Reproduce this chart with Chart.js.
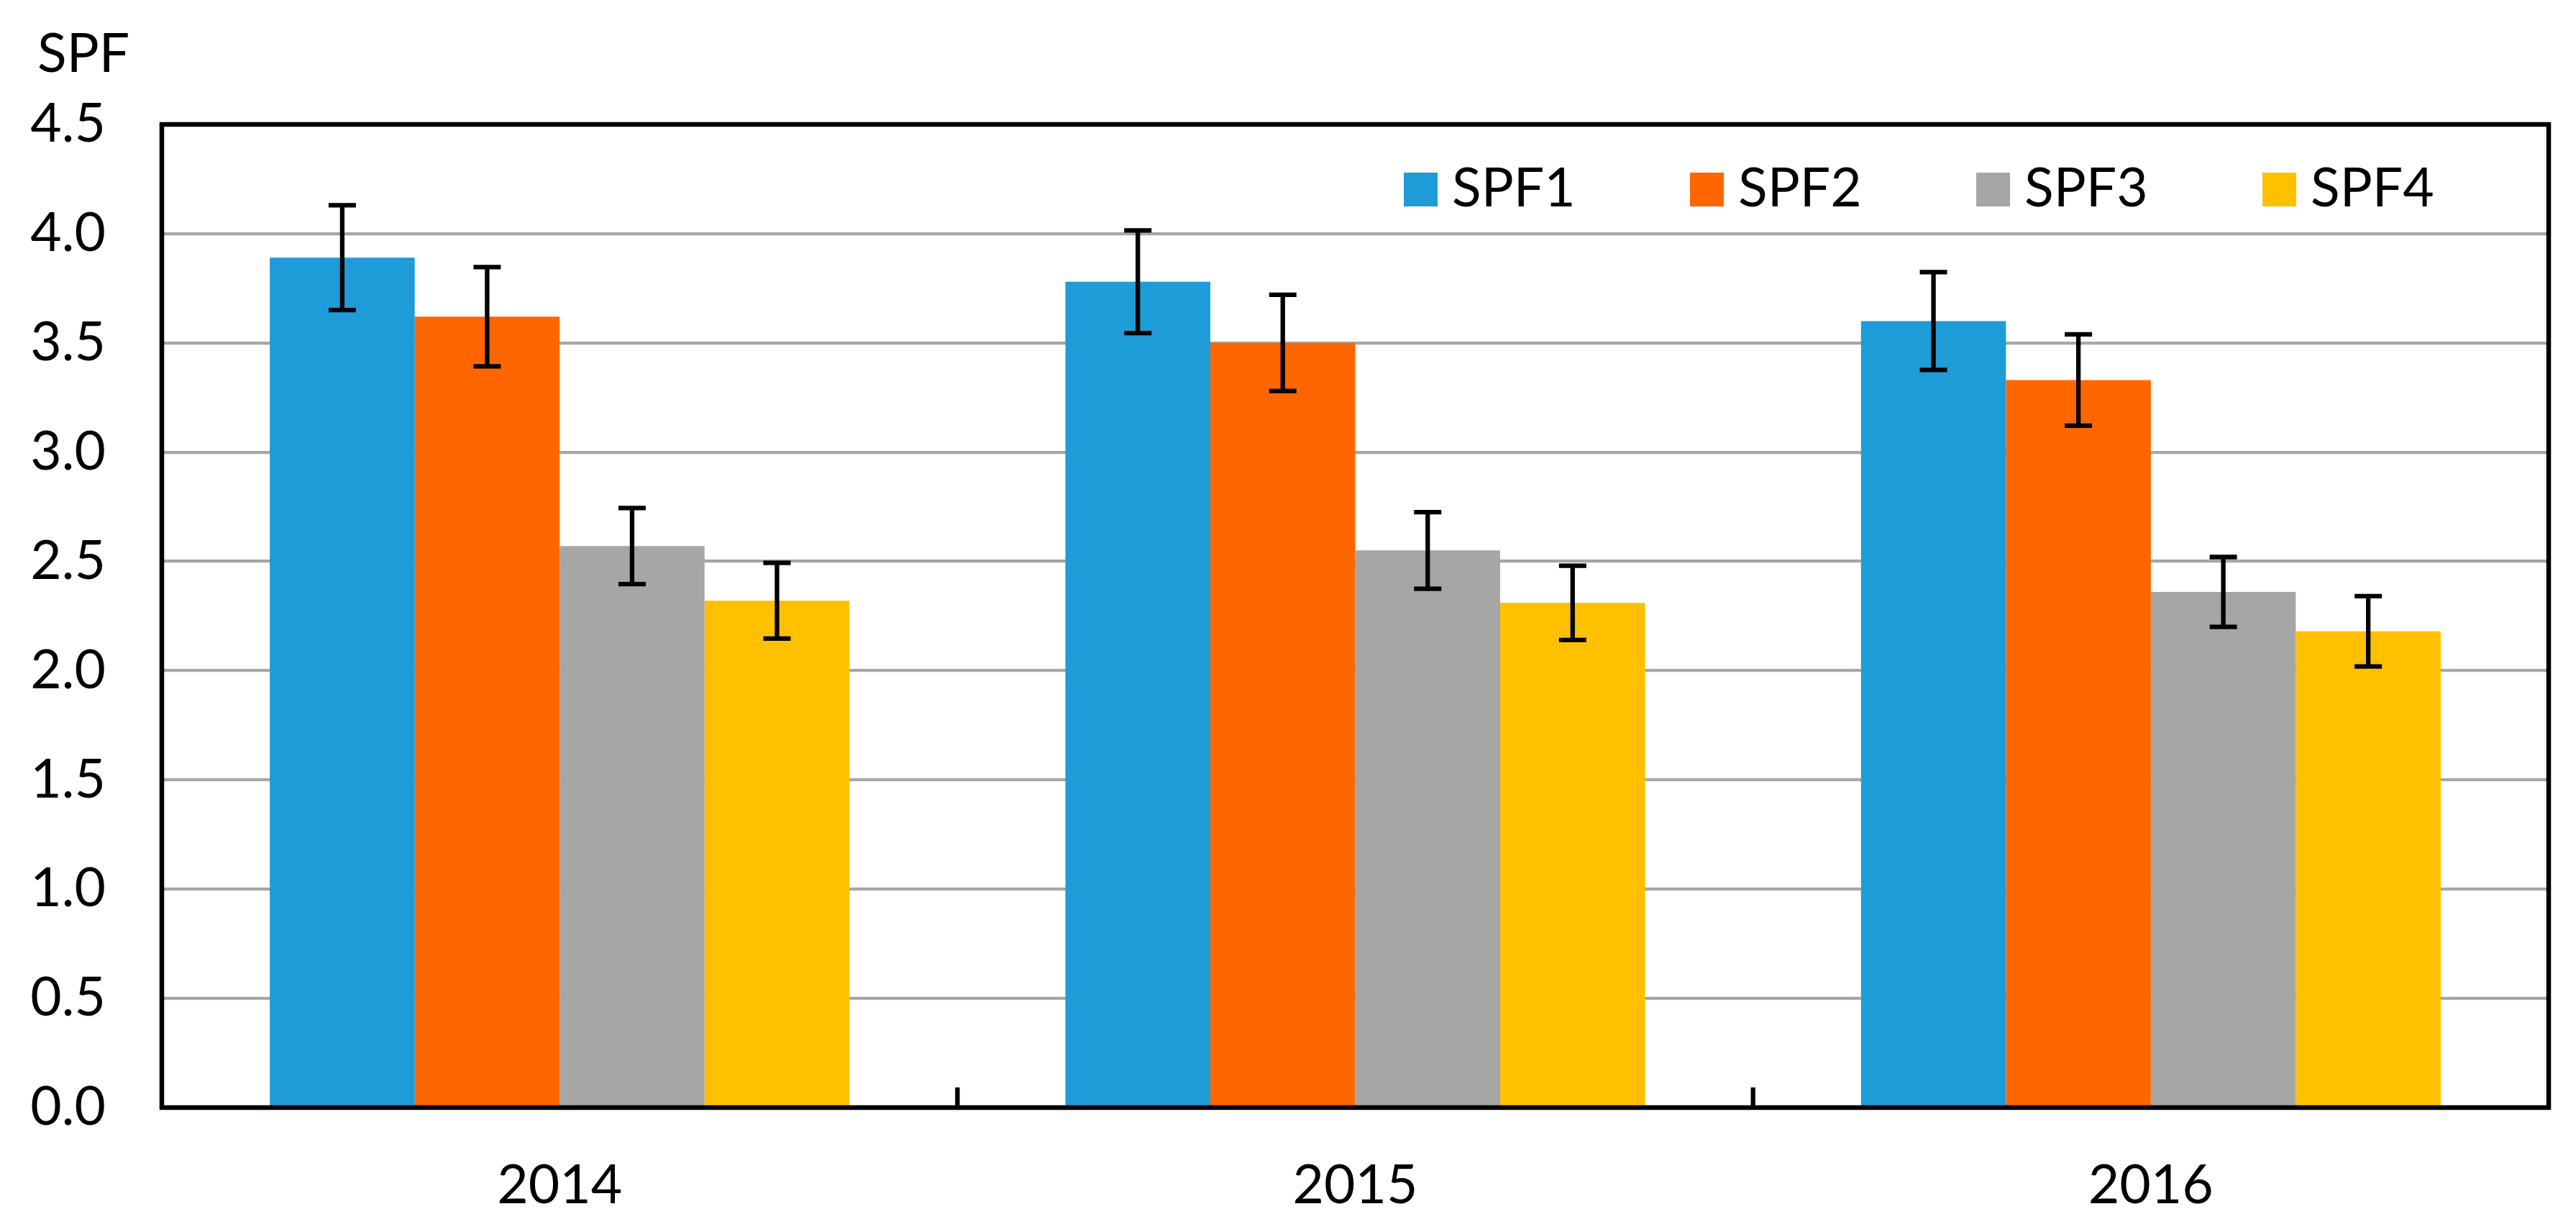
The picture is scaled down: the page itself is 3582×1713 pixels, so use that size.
<!DOCTYPE html>
<html>
<head>
<meta charset="utf-8">
<script src="https://cdn.jsdelivr.net/npm/chart.js@4.4.1/dist/chart.umd.min.js"></script>
<style>
html,body{margin:0;padding:0;background:#ffffff;}
#wrap{width:3582px;height:1713px;}
</style>
</head>
<body>
<div id="wrap"><canvas id="c" width="3582" height="1713"></canvas></div>
<script>
// ---- data ----
const categories = ['2014', '2015', '2016'];
const seriesNames = ['SPF1', 'SPF2', 'SPF3', 'SPF4'];
const spf1 = [3.89, 3.78, 3.60];
const spf2 = [3.62, 3.50, 3.33];
const spf3 = [2.57, 2.55, 2.36];
const spf4 = [2.32, 2.31, 2.18];
const spf1Err = [0.240, 0.235, 0.224];
const spf2Err = [0.227, 0.220, 0.209];
const spf3Err = [0.174, 0.175, 0.160];
const spf4Err = [0.173, 0.170, 0.161];
const yAxisTitle = 'SPF';
const yMin = 0, yMax = 4.5, yStep = 0.5;

// ---- styles ----
const FONT = 'Lato';
const colors = ['#1E9CD8', '#FF6600', '#A6A6A6', '#FFC000'];
const seriesValues = [spf1, spf2, spf3, spf4];
const seriesErrors = [spf1Err, spf2Err, spf3Err, spf4Err];

const overlay = {
  id: 'overlay',
  afterDatasetsDraw(chart) {
    const {ctx, chartArea: a, scales: {x, y}} = chart;
    ctx.save();
    ctx.strokeStyle = '#000000';
    ctx.lineCap = 'butt';
    // error bars
    ctx.lineWidth = 6.3;
    chart.data.datasets.forEach((ds, i) => {
      const meta = chart.getDatasetMeta(i);
      meta.data.forEach((bar, j) => {
        const v = ds.data[j], e = ds.errors[j];
        const yt = y.getPixelForValue(v + e);
        const yb = y.getPixelForValue(v - e);
        const cx = bar.x;
        ctx.beginPath();
        ctx.moveTo(cx, yt); ctx.lineTo(cx, yb);
        ctx.moveTo(cx - 19, yt); ctx.lineTo(cx + 19, yt);
        ctx.moveTo(cx - 19, yb); ctx.lineTo(cx + 19, yb);
        ctx.stroke();
      });
    });
    // inner tick marks at category boundaries
    for (let i = 0; i < categories.length - 1; i++) {
      const bx = (x.getPixelForValue(i) + x.getPixelForValue(i + 1)) / 2;
      ctx.beginPath();
      ctx.moveTo(bx, a.bottom);
      ctx.lineTo(bx, a.bottom - 28);
      ctx.stroke();
    }
    // frame
    ctx.lineWidth = 6.5;
    ctx.strokeRect(a.left, a.top, a.right - a.left, a.bottom - a.top);
    ctx.restore();
  },
  afterDraw(chart) {
    const {ctx, chartArea: a, scales: {y}} = chart;
    ctx.save();
    ctx.font = '75px ' + FONT;
    ctx.fillStyle = '#000000';
    ctx.textBaseline = 'alphabetic';
    ctx.textAlign = 'left';
    // axis title
    ctx.fillText(yAxisTitle, y.left + 52, a.top - 73);
    // legend inside plot area
    chart.data.datasets.forEach((ds, i) => {
      const bx = a.right - 1592 + i * 398;
      const by = a.top + 67;
      ctx.fillStyle = ds.backgroundColor;
      ctx.fillRect(bx, by, 47, 47);
      ctx.fillStyle = '#000000';
      ctx.fillText(ds.label, bx + 67, by + 47);
    });
    ctx.restore();
  }
};

const datasets = seriesNames.map((name, i) => ({
  label: name,
  data: seriesValues[i],
  errors: seriesErrors[i],
  backgroundColor: colors[i],
  borderWidth: 0,
  barPercentage: 1.0,
  categoryPercentage: 0.7286
}));

new Chart(document.getElementById('c'), {
  type: 'bar',
  data: {labels: categories, datasets: datasets},
  options: {
    responsive: false,
    animation: false,
    devicePixelRatio: 1,
    layout: {padding: {left: 0, top: 173, right: 38, bottom: 0}},
    plugins: {
      legend: {display: false},
      tooltip: {enabled: false},
      title: {display: false}
    },
    scales: {
      x: {
        grid: {display: false, drawTicks: false},
        border: {display: false},
        ticks: {
          color: '#000000',
          font: {family: FONT, size: 75},
          padding: 64,
          maxRotation: 0
        },
        afterFit(s) { s.height = 173; }
      },
      y: {
        min: yMin,
        max: yMax,
        grid: {color: '#A6A6A6', lineWidth: 4.3, drawTicks: false},
        border: {display: false},
        ticks: {
          stepSize: yStep,
          color: '#000000',
          font: {family: FONT, size: 75},
          padding: 78,
          callback: (v) => Number(v).toFixed(1)
        },
        afterFit(s) { s.width = 225; }
      }
    }
  },
  plugins: [overlay]
});
</script>
</body>
</html>
